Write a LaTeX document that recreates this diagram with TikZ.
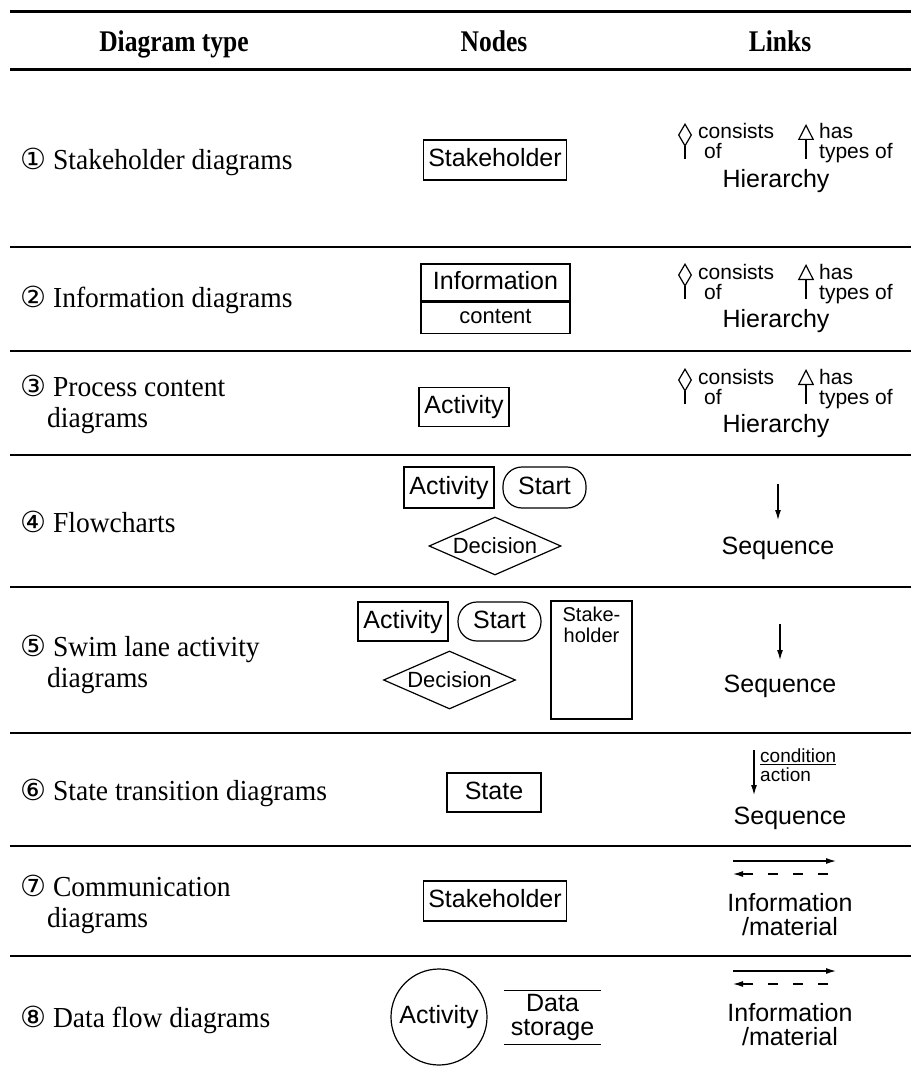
\documentclass[tikz,border=0pt]{standalone}
\usepackage{fontspec}
\setmainfont{Liberation Serif}
\setsansfont{Liberation Sans}
\newfontfamily\circfont{DejaVu Sans}
\newfontfamily\rowfont[FakeStretch=0.95]{Liberation Serif}
\newfontfamily\headfont[FakeStretch=0.85]{Liberation Serif}
\usetikzlibrary{arrows.meta, shapes.geometric}

\tikzset{
  rowlabel/.style={font=\rowfont\fontsize{29}{31}\selectfont, anchor=base west, inner sep=0pt, align=left},
  head/.style={font=\headfont\fontsize{30}{30}\selectfont\bfseries, inner sep=0pt, anchor=base},
  box/.style={draw, line width=1.2pt, font=\sffamily\fontsize{25}{24}\selectfont, inner xsep=5pt, inner ysep=0pt,
    text height=18pt, text depth=5pt, minimum height=40pt},
  startbox/.style={box, rounded corners=19pt, minimum width=83pt},
  decision/.style={draw, diamond, aspect=2.3, inner sep=0pt, line width=1.2pt,
    font=\sffamily\fontsize{22}{24}\selectfont, minimum width=132pt, minimum height=58pt},
  linktext/.style={font=\sffamily\fontsize{25}{24}\selectfont, inner sep=0pt, align=center},
  smalltext/.style={font=\sffamily\fontsize{21}{20}\selectfont, inner sep=0pt, align=left, anchor=base west},
  tinytext/.style={font=\sffamily\fontsize{19}{18}\selectfont, inner sep=0pt, anchor=base west},
  rule/.style={line width=3pt},
  seprule/.style={line width=2.4pt},
  flow/.style={line width=1.2pt, -{Latex[length=10pt,width=6pt]}},
}

\begin{document}
\begin{tikzpicture}[x=1pt, y=-1pt]
\useasboundingbox (0,0) rectangle (911,1075);

\draw[rule] (10,12) -- (911,12);
\draw[rule] (10,70) -- (911,70);
\draw[seprule] (10,247) -- (911,247);
\draw[seprule] (10,351) -- (911,351);
\draw[seprule] (10,455) -- (911,455);
\draw[seprule] (10,587) -- (911,587);
\draw[seprule] (10,733) -- (911,733);
\draw[seprule] (10,846) -- (911,846);
\draw[seprule] (10,956) -- (911,956);

\node[head] (hType) at (174,52) {Diagram type};
\node[head] (hNodes) at (494,52) {Nodes};
\node[head] (hLinks) at (780,52) {Links};

\node[rowlabel] (r1) at (20,170) {{\circfont ①} Stakeholder diagrams};
\node[rowlabel] (r2) at (20,307) {{\circfont ②} Information diagrams};
\node[rowlabel] (r3) at (20,427) {{\circfont ③} Process content\\\hspace*{27pt}diagrams};
\node[rowlabel] (r4) at (20,532) {{\circfont ④} Flowcharts};
\node[rowlabel] (r5) at (20,687) {{\circfont ⑤} Swim lane activity\\\hspace*{27pt}diagrams};
\node[rowlabel] (r6) at (20,800) {{\circfont ⑥} State transition diagrams};
\node[rowlabel] (r7) at (20,927) {{\circfont ⑦} Communication\\\hspace*{27pt}diagrams};
\node[rowlabel] (r8) at (20,1027) {{\circfont ⑧} Data flow diagrams};

% nodes column
\node[box] (stake1) at (495,160) {Stakeholder};
\node[box, minimum width=149pt, minimum height=37pt] (info) at (495.5,282.5) {Information};
\node[box, font=\sffamily\fontsize{22}{24}\selectfont, text height=16pt, minimum width=149pt, minimum height=31pt, anchor=north] (infoc) at (info.south) {content};
\node[box, minimum width=90pt, minimum height=39pt] (act3) at (464,407) {Activity};

\node[box, minimum width=90pt, minimum height=41pt] (act4) at (449,487.5) {Activity};
\node[startbox, minimum height=41pt] (start4) at (544.5,487.5) {Start};
\node[decision] (dec4) at (495,546) {Decision};

\node[box, minimum width=90pt, minimum height=39pt] (act5) at (403,621.5) {Activity};
\node[startbox, minimum height=39pt] (start5) at (499.5,621.5) {Start};
\node[decision] (dec5) at (449.5,680) {Decision};
\node[draw, line width=1.2pt, minimum width=81pt, minimum height=118pt] (lane) at (591.5,660) {};
\node[font=\sffamily\fontsize{20}{21}\selectfont, inner sep=0pt, align=center, anchor=north] (laneText) at ([yshift=-6pt]lane.north) {Stake-\\holder};

\node[box, minimum width=94pt, minimum height=39pt] (state) at (494,792.5) {State};
\node[box] (stake7) at (495,901) {Stakeholder};

\node[draw, circle, line width=1.2pt, minimum size=96pt, inner sep=0pt, font=\sffamily\fontsize{25}{24}\selectfont] (act8) at (439,1017) {Activity};
\node[linktext, minimum width=97pt, minimum height=53pt] (store) at (552.5,1017.5) {Data\\storage};
\draw[line width=1.2pt] (store.north west) -- (store.north east);
\draw[line width=1.2pt] (store.south west) -- (store.south east);

% links column
\begin{scope}[shift={(0,0)}]
\coordinate (c1a) at (685,159); \coordinate (c1b) at (685,123);
\coordinate (t1a) at (806,159); \coordinate (t1b) at (806,124);
\draw[line width=1.2pt, -{Diamond[open, length=24pt, width=14pt]}] (c1a) -- (c1b);
\draw[line width=1.2pt, -{Triangle[open, length=16pt, width=16pt]}] (t1a) -- (t1b);
\node[smalltext] (cons1) at (698,159) {consists\\\hspace*{6pt}of};
\node[smalltext] (has1) at (819,159) {has\\types of};
\node[linktext] (hier1) at (776,181) {Hierarchy};
\end{scope}

\begin{scope}[shift={(0,140)}]
\coordinate (c2a) at (685,159); \coordinate (c2b) at (685,123);
\coordinate (t2a) at (806,159); \coordinate (t2b) at (806,124);
\draw[line width=1.2pt, -{Diamond[open, length=24pt, width=14pt]}] (c2a) -- (c2b);
\draw[line width=1.2pt, -{Triangle[open, length=16pt, width=16pt]}] (t2a) -- (t2b);
\node[smalltext] (cons2) at (698,159) {consists\\\hspace*{6pt}of};
\node[smalltext] (has2) at (819,159) {has\\types of};
\node[linktext] (hier2) at (776,181) {Hierarchy};
\end{scope}

\begin{scope}[shift={(0,245)}]
\coordinate (c3a) at (685,159); \coordinate (c3b) at (685,123);
\coordinate (t3a) at (806,159); \coordinate (t3b) at (806,124);
\draw[line width=1.2pt, -{Diamond[open, length=24pt, width=14pt]}] (c3a) -- (c3b);
\draw[line width=1.2pt, -{Triangle[open, length=16pt, width=16pt]}] (t3a) -- (t3b);
\node[smalltext] (cons3) at (698,159) {consists\\\hspace*{6pt}of};
\node[smalltext] (has3) at (819,159) {has\\types of};
\node[linktext] (hier3) at (776,181) {Hierarchy};
\end{scope}

\coordinate (s4a) at (778,484); \coordinate (s4b) at (778,520);
\draw[flow] (s4a) -- (s4b);
\node[linktext] (seq4) at (778,548) {Sequence};

\coordinate (s5a) at (780,624); \coordinate (s5b) at (780,660);
\draw[flow] (s5a) -- (s5b);
\node[linktext] (seq5) at (780,686) {Sequence};

\coordinate (s6a) at (754,750); \coordinate (s6b) at (754,795);
\draw[flow] (s6a) -- (s6b);
\node[tinytext] (cond) at (760,762) {condition};
\draw[line width=0.8pt] ([yshift=-2pt]cond.base west) -- ([yshift=-2pt]cond.base east);
\node[tinytext] (action) at (760,781) {action};
\node[linktext] (seq6) at (790,818) {Sequence};

\begin{scope}[shift={(0,0)}]
\coordinate (m7a) at (733,861); \coordinate (m7b) at (836,861);
\coordinate (m7c) at (828,874); \coordinate (m7d) at (733,874);
\draw[flow] (m7a) -- (m7b);
\draw[flow, dash pattern=on 10pt off 15pt] (m7c) -- (m7d);
\node[linktext] (mat7) at (790,915) {Information\\/material};
\end{scope}

\begin{scope}[shift={(0,110)}]
\coordinate (m8a) at (733,861); \coordinate (m8b) at (836,861);
\coordinate (m8c) at (828,874); \coordinate (m8d) at (733,874);
\draw[flow] (m8a) -- (m8b);
\draw[flow, dash pattern=on 10pt off 15pt] (m8c) -- (m8d);
\node[linktext] (mat8) at (790,915) {Information\\/material};
\end{scope}
\end{tikzpicture}
\end{document}
